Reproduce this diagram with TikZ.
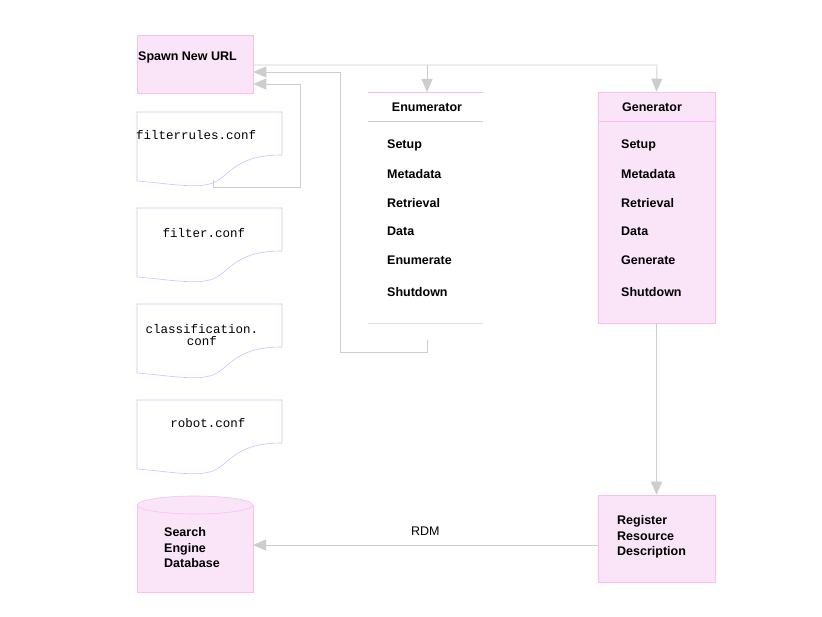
\documentclass[tikz,border=0pt]{standalone}
\usepackage{fontspec}
\setmainfont{Liberation Sans}
\newfontfamily\monof{Liberation Mono}
\usetikzlibrary{arrows.meta,shapes.geometric}
\definecolor{pk}{RGB}{250,190,245}
\definecolor{pkf}{RGB}{250,228,248}
\definecolor{lav}{RGB}{200,195,245}
\definecolor{gr}{RGB}{205,205,205}
\begin{document}
\begin{tikzpicture}[x=1pt,y=-1pt,
  box/.style={draw=pk,fill=pkf,line width=0.6pt},
  lbl/.style={font=\bfseries\fontsize{12.5}{15.5}\selectfont,anchor=west,inner sep=0pt},
  conf/.style={font=\monof\fontsize{12.5}{12}\selectfont,inner sep=0pt},
  wire/.style={draw=gr,line width=0.9pt},
  arr/.style={wire,-{Triangle[width=11pt,length=13pt,fill=gr]}}]
\useasboundingbox (0,0) rectangle (822,617);
% Spawn
\node[box,minimum width=116pt,minimum height=58pt,inner sep=0pt] (spawn) at (195,64) {};
\node[lbl] (spawnt) at (138,57) {Spawn New URL};
% documents
\foreach \n/\y in {f1/112,f2/208,f3/304,f4/400}{
  \draw[draw=lav,line width=0.6pt] (137,\y) -- (282,\y) -- (282,\y+43)
    .. controls (245,\y+43) and (235,\y+55) .. (220,\y+67)
    .. controls (205,\y+79) and (175,\y+72) .. (137,\y+69) -- cycle;
  \coordinate (\n) at (137,\y);
}
\node[conf,anchor=west] (t1) at (136,135) {filterrules.conf};
\node[conf] (t2) at (204,233) {filter.conf};
\node[conf,align=center] (t3) at (202,335) {classification.\\conf};
\node[conf] (t4) at (208,423) {robot.conf};
% database
\draw[draw=pk,fill=pkf,line width=0.6pt] (137,505) -- (137,592) -- (253,592) -- (253,505);
\node[ellipse,draw=pk,fill=pkf,line width=0.6pt,minimum width=116pt,minimum height=18pt,inner sep=0pt] (db) at (195,505) {};
\coordinate (dbE) at (253,545);
\node[lbl,align=left] (dbt) at (164,548) {Search\\Engine\\Database};
% enumerator
\draw[pk,line width=0.6pt] (368,92) -- (483,92);
\draw[gr,line width=0.6pt] (368,121) -- (483,121);
\draw[gr!60,line width=0.4pt] (368,323) -- (483,323);
\node[font=\bfseries\fontsize{12.5}{15}\selectfont] (ent) at (427,107) {Enumerator};
\coordinate (enN) at (427,92);
\coordinate (enS) at (427,340);
\foreach \t/\y in {Setup/145,Metadata/174,Retrieval/203,Data/231,Enumerate/260,Shutdown/292}
  \node[lbl] at (387,\y) {\t};
% generator
\node[box,minimum width=117pt,minimum height=231pt,inner sep=0pt] (gen) at (656.5,207.5) {};
\draw[pk,line width=0.6pt] (598,121) -- (715,121);
\node[font=\bfseries\fontsize{12.5}{15}\selectfont] (gent) at (652,107) {Generator};
\foreach \t/\y in {Setup/145,Metadata/174,Retrieval/203,Data/231,Generate/260,Shutdown/292}
  \node[lbl] at (621,\y) {\t};
% register
\node[box,minimum width=117pt,minimum height=87pt,inner sep=0pt] (reg) at (656.5,538.5) {};
\node[lbl,align=left] (regt) at (617,537) {Register\\Resource\\Description};
% connectors
\coordinate (j1) at (427,65);
\draw[arr] (spawn.east |- 0,65) -- (657,65) -- (gen.north);
\draw[arr] (j1) -- (enN);
\draw[arr] (enS) -- (427,352) -- (340,352) -- (340,72) -- (spawn.east |- 0,72);
\draw[arr] (213,180) -- (213,187) -- (300,187) -- (300,84) -- (spawn.east |- 0,84);
\draw[arr] (gen.south) -- (reg.north);
\draw[arr] (reg.west |- dbE) -- node[above=6pt,font=\fontsize{12.5}{15}\selectfont,black] (rdm) {RDM} (dbE);
\end{tikzpicture}
\end{document}
